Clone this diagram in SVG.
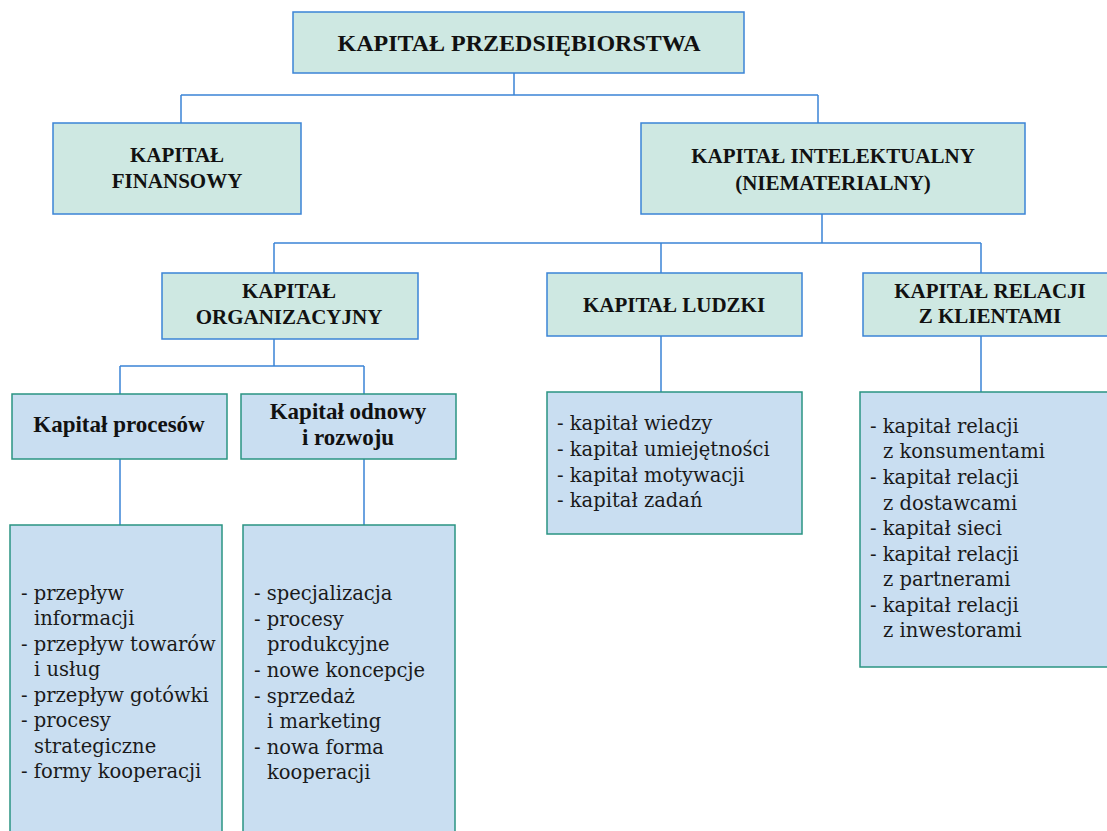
<svg xmlns="http://www.w3.org/2000/svg" width="1107" height="831" viewBox="0 0 1107 831">
  <style>
    .head { fill: #cee8e2; stroke: #3b84d6; stroke-width: 1.5; }
    .sub { fill: #c9def1; stroke: #2a9482; stroke-width: 1.5; }
    .conn { fill: none; stroke: #3b84d6; stroke-width: 1.5; }
    .h { font-family: "Liberation Serif", "Times New Roman", serif; font-weight: bold; font-size: 21px; fill: #111; text-anchor: middle; }
    .hs { font-family: "Liberation Serif", "Times New Roman", serif; font-weight: bold; font-size: 23px; fill: #111; text-anchor: middle; }
    .li { font-family: "DejaVu Serif", "Liberation Serif", serif; font-size: 19.5px; fill: #1a1a1a; }
  </style>

  <g id="connectors">
    <path class="conn" d="M514,73 V95 M181,95 H818 M181,95 V123 M818,95 V123"/>
    <path class="conn" d="M822,214 V243 M274,243 H981 M274,243 V273 M661,243 V273 M981,243 V273"/>
    <path class="conn" d="M274,339 V366 M120,366 H364 M120,366 V394 M364,366 V394"/>
    <path class="conn" d="M120,459 V525 M364,459 V525 M661,336 V392 M981,336 V392"/>
  </g>

  <g id="kapital-przedsiebiorstwa">
    <rect class="head" x="293" y="12" width="451" height="61"/>
    <text class="h" x="519" y="51" style="font-size:24px">KAPITAŁ PRZEDSIĘBIORSTWA</text>
  </g>

  <g id="kapital-finansowy">
    <rect class="head" x="53" y="123" width="248" height="91"/>
    <text class="h" x="177" y="162">KAPITAŁ</text>
    <text class="h" x="177" y="188">FINANSOWY</text>
  </g>

  <g id="kapital-intelektualny">
    <rect class="head" x="641" y="123" width="384" height="91"/>
    <text class="h" x="833" y="163">KAPITAŁ INTELEKTUALNY</text>
    <text class="h" x="833" y="190">(NIEMATERIALNY)</text>
  </g>

  <g id="kapital-organizacyjny">
    <rect class="head" x="162" y="273" width="256" height="66"/>
    <text class="h" x="289" y="298">KAPITAŁ</text>
    <text class="h" x="289" y="324">ORGANIZACYJNY</text>
  </g>

  <g id="kapital-ludzki">
    <rect class="head" x="547" y="273" width="255" height="63"/>
    <text class="h" x="674" y="312">KAPITAŁ LUDZKI</text>
  </g>

  <g id="kapital-relacji">
    <rect class="head" x="863" y="273" width="250" height="63"/>
    <text class="h" x="990" y="298">KAPITAŁ RELACJI</text>
    <text class="h" x="990" y="323">Z KLIENTAMI</text>
  </g>

  <g id="kapital-procesow">
    <rect class="sub" x="12" y="394" width="215" height="65"/>
    <text class="hs" x="119" y="432">Kapitał procesów</text>
  </g>

  <g id="kapital-odnowy">
    <rect class="sub" x="241" y="394" width="215" height="65"/>
    <text class="hs" x="348" y="419">Kapitał odnowy</text>
    <text class="hs" x="348" y="445">i rozwoju</text>
  </g>

  <g id="lista-procesow">
    <rect class="sub" x="10" y="525" width="212" height="320"/>
    <text class="li" x="21" y="600">- przepływ</text>
    <text class="li" x="34" y="625">informacji</text>
    <text class="li" x="21" y="651">- przepływ towarów</text>
    <text class="li" x="34" y="676">i usług</text>
    <text class="li" x="21" y="702">- przepływ gotówki</text>
    <text class="li" x="21" y="727">- procesy</text>
    <text class="li" x="34" y="753">strategiczne</text>
    <text class="li" x="21" y="778">- formy kooperacji</text>
  </g>

  <g id="lista-odnowy">
    <rect class="sub" x="243" y="525" width="212" height="320"/>
    <text class="li" x="254" y="600">- specjalizacja</text>
    <text class="li" x="254" y="626">- procesy</text>
    <text class="li" x="267" y="651">produkcyjne</text>
    <text class="li" x="254" y="677">- nowe koncepcje</text>
    <text class="li" x="254" y="703">- sprzedaż</text>
    <text class="li" x="267" y="728">i marketing</text>
    <text class="li" x="254" y="754">- nowa forma</text>
    <text class="li" x="267" y="779">kooperacji</text>
  </g>

  <g id="lista-ludzki">
    <rect class="sub" x="547" y="392" width="255" height="142"/>
    <text class="li" x="557" y="430">- kapitał wiedzy</text>
    <text class="li" x="557" y="456">- kapitał umiejętności</text>
    <text class="li" x="557" y="482">- kapitał motywacji</text>
    <text class="li" x="557" y="507">- kapitał zadań</text>
  </g>

  <g id="lista-relacji">
    <rect class="sub" x="860" y="392" width="260" height="275"/>
    <text class="li" x="870" y="433">- kapitał relacji</text>
    <text class="li" x="883" y="458">z konsumentami</text>
    <text class="li" x="870" y="484">- kapitał relacji</text>
    <text class="li" x="883" y="510">z dostawcami</text>
    <text class="li" x="870" y="535">- kapitał sieci</text>
    <text class="li" x="870" y="561">- kapitał relacji</text>
    <text class="li" x="883" y="586">z partnerami</text>
    <text class="li" x="870" y="612">- kapitał relacji</text>
    <text class="li" x="883" y="637">z inwestorami</text>
  </g>
</svg>
